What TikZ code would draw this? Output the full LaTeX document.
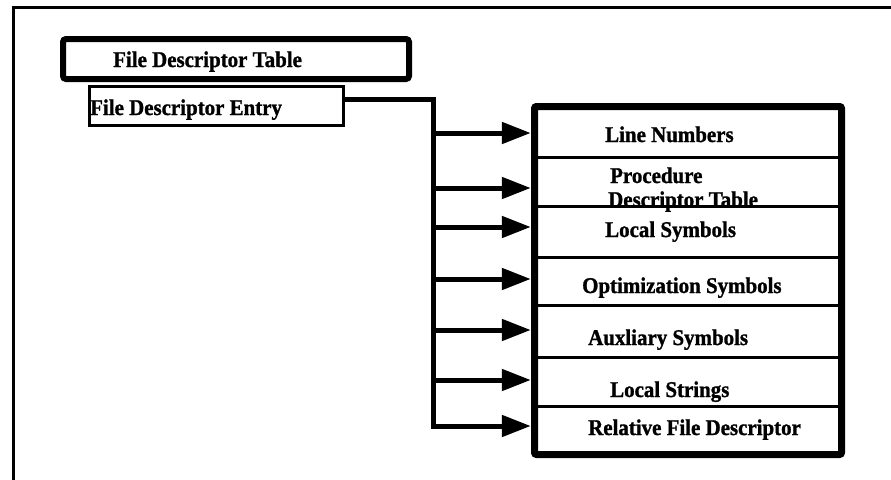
\documentclass[tikz,border=0pt]{standalone}
\usepackage{fontspec}
\setmainfont{Liberation Serif}[BoldFeatures={FakeBold=1.2,FakeStretch=0.93}]
\usetikzlibrary{arrows.meta}
\begin{document}
\begin{tikzpicture}[x=1pt,y=-1pt,
  lbl/.style={anchor=base west,inner sep=0pt,font=\fontsize{22.5}{26}\selectfont\bfseries},
  rowbox/.style={draw=none,inner sep=0pt,minimum width=314pt},
  divider/.style={line width=3pt},
  frame/.style={line width=3pt},
  feed/.style={line width=5pt,-{Triangle[length=29pt,width=21pt]}},
  bus/.style={line width=5pt}]
\useasboundingbox (0,0) rectangle (891,479);
% outer frame (partially visible)
\coordinate (fa) at (13,483);
\coordinate (fb) at (13,7);
\coordinate (fc) at (895,7);
\draw[frame] (fa) -- (fb) -- (fc);
% File Descriptor Table
\node[draw,line width=6pt,rounded corners=3pt,minimum width=346pt,minimum height=40pt,inner sep=0pt] (fdt) at (236,59) {};
\node[lbl] (fdtl) at (113,67) {File Descriptor Table};
% File Descriptor Entry
\node[draw,line width=3pt,minimum width=254pt,minimum height=39pt,inner sep=0pt] (fde) at (216.5,106) {};
\node[lbl] (fdel) at (90,115) {File Descriptor Entry};
% rows
\node[rowbox,minimum height=54pt] (r1) at (688,130) {};
\node[rowbox,minimum height=49pt] (r2) at (688,181.5) {};
\node[rowbox,minimum height=51pt] (r3) at (688,231.5) {};
\node[rowbox,minimum height=48pt] (r4) at (688,281) {};
\node[rowbox,minimum height=52pt] (r5) at (688,331) {};
\node[rowbox,minimum height=49pt] (r6) at (688,381.5) {};
\node[rowbox,minimum height=52pt] (r7) at (688,432) {};
\node[lbl] (t1) at (605,142) {Line Numbers};
\node[lbl] (t2a) at (610,183) {Procedure};
\node[lbl] (t2b) at (608,207) {Descriptor Table};
\node[lbl] (t3) at (605,237) {Local Symbols};
\node[lbl] (t4) at (582,293) {Optimization Symbols};
\node[lbl] (t5) at (588,345) {Auxliary Symbols};
\node[lbl] (t6) at (610,397) {Local Strings};
\node[lbl] (t7) at (588,435) {Relative File Descriptor};
\foreach \r in {r1,r2,r3,r4,r5,r6}{
  \draw[divider] (\r.south west) -- (\r.south east);
}
\node[draw,line width=7pt,rounded corners=2pt,minimum width=307pt,minimum height=348pt,inner sep=0pt] (rbox) at (688,280.5) {};
% bus and arrows
\coordinate (b1) at (433,133);
\coordinate (b2) at (433,188);
\coordinate (b3) at (433,227);
\coordinate (b4) at (433,279);
\coordinate (b5) at (433,330);
\coordinate (b6) at (433,380);
\coordinate (b7) at (433,426);
\draw[feed] ([yshift=7pt]fde.east) -| (b7) -- (b7 -| r7.west);
\foreach \i in {1,...,6}{
  \draw[feed] (b\i) -- (b\i -| r\i.west);
}
\end{tikzpicture}
\end{document}
